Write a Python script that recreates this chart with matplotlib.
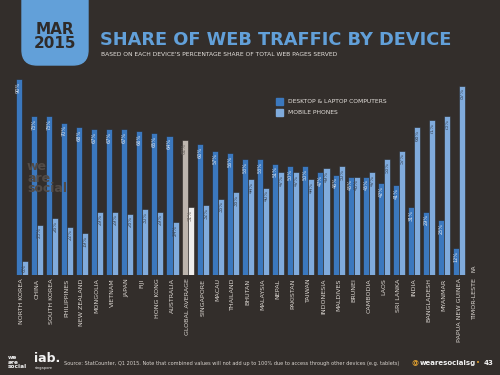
import matplotlib
matplotlib.use("Agg")
import matplotlib.pyplot as plt
import numpy as np
from matplotlib.patches import FancyBboxPatch, Rectangle

# data (percent of web pages served)
countries = ["NORTH KOREA", "CHINA", "SOUTH KOREA", "PHILIPPINES", "NEW ZEALAND",
             "MONGOLIA", "VIETNAM", "JAPAN", "FIJI", "HONG KONG", "AUSTRALIA",
             "GLOBAL AVERAGE", "SINGAPORE", "MACAU", "THAILAND", "BHUTAN",
             "MALAYSIA", "NEPAL", "PAKISTAN", "TAIWAN", "INDONESIA", "MALDIVES",
             "BRUNEI", "CAMBODIA", "LAOS", "SRI LANKA", "INDIA", "BANGLADESH",
             "MYANMAR", "PAPUA NEW GUINEA", "TIMOR-LESTE"]
desktop = [90, 73, 73, 70, 68, 67, 67, 67, 66, 65, 64, 62, 60, 57, 56, 53,
           53, 51, 50, 50, 47, 46, 45, 45, 42, 41, 31, 29, 25, 12, None]
mobile = [6, 23, 26, 22, 19, 29, 29, 28, 30, 29, 24, 31, 32, 35, 38, 44,
          40, 47, 47, 44, 49, 50, 45, 47, 53, 57, 68, 71, 73, 87, None]
avg_index = countries.index("GLOBAL AVERAGE")

BG = "#332e2b"
DESK = "#3b78be"
MOB = "#80abdc"
AVG_DESK = "#bdb5ad"
AVG_MOB = "#efedeb"
HEAD = "#62a0d9"

fig = plt.figure(figsize=(5, 3.75), dpi=100, facecolor=BG)
ax = fig.add_axes([0.028, 0.268, 0.936, 0.579])
ax.set_facecolor(BG)
ax.set_xlim(-0.5, len(countries) - 0.5)
ax.set_ylim(0, 100)
ax.axis("off")

narrow = ["Liberation Sans Narrow", "DejaVu Sans"]
w = 0.4
for i, name in enumerate(countries):
    d, m = desktop[i], mobile[i]
    dc, mc = (AVG_DESK, AVG_MOB) if i == avg_index else (DESK, MOB)
    dt, mt = ("#6b645e", "#6b645e") if i == avg_index else ("#dfe8f4", "#3a4656")
    if d is not None:
        ax.bar(i - w / 2, d, width=w, color=dc, edgecolor="#2a2624", linewidth=0.4)
        ax.text(i - w / 2, d - 1.2, f"{d}%", rotation=90, ha="center", va="top",
                fontsize=3.6, color=dt, family=narrow)
        ax.bar(i + w / 2, m, width=w, color=mc, edgecolor="#2a2624", linewidth=0.4)
        ax.text(i + w / 2, m - 1.2, f"{m}%", rotation=90, ha="center", va="top",
                fontsize=3.6, color=mt, family=narrow)
    else:
        ax.text(i, 1, "NA", rotation=90, ha="center", va="bottom",
                fontsize=3.8, color="#e8e4e0", family=narrow)
    ax.text(i, -1.8, name, rotation=90, ha="center", va="top",
            fontsize=4.6, color="#d9d4cf", family=narrow)

# legend
fig.patches.append(Rectangle((276 / 500, 1 - 105 / 375), 7 / 500, 7 / 375,
                             transform=fig.transFigure, color=DESK))
fig.patches.append(Rectangle((276 / 500, 1 - 116 / 375), 7 / 500, 7 / 375,
                             transform=fig.transFigure, color=MOB))
fig.text(288 / 500, 1 - 101.5 / 375, "DESKTOP & LAPTOP COMPUTERS", fontsize=4.3,
         color="#e6e2de", va="center", family=narrow)
fig.text(288 / 500, 1 - 112.5 / 375, "MOBILE PHONES", fontsize=4.3,
         color="#e6e2de", va="center", family=narrow)

# header box, only the bottom corners show rounded
box = FancyBboxPatch((22 / 500, 1 - 65 / 375), 66 / 500, 130 / 375,
                     boxstyle="round,pad=0,rounding_size=0.03",
                     transform=fig.transFigure, color=HEAD, mutation_aspect=1.33)
fig.patches.append(box)
fig.text(55 / 500, 1 - 29 / 375, "MAR", fontsize=11, fontweight="bold",
         color="#2f2b29", ha="center", va="center")
fig.text(55 / 500, 1 - 44 / 375, "2015", fontsize=11, fontweight="bold",
         color="#2f2b29", ha="center", va="center")

fig.text(100 / 500, 1 - 40 / 375, "SHARE OF WEB TRAFFIC BY DEVICE", fontsize=12.8,
         fontweight="bold", color=HEAD, va="center")
fig.text(101 / 500, 1 - 54 / 375,
         "BASED ON EACH DEVICE'S PERCENTAGE SHARE OF TOTAL WEB PAGES SERVED",
         fontsize=4.3, color="#e6e2de", va="center", family=narrow)

# faint watermark
fig.text(27 / 500, 1 - 178 / 375, "we\nare\nsocial", fontsize=9, fontweight="bold",
         color="#524b46", va="center", linespacing=0.8)

# footer
fig.text(8 / 500, 1 - 362 / 375, "we\nare\nsocial", fontsize=4.2, fontweight="bold",
         color="#f2f2f2", va="center", linespacing=0.8)
fig.text(34 / 500, 1 - 359 / 375, "iab.", fontsize=9, fontweight="bold",
         color="#f2f2f2", va="center")
fig.text(35 / 500, 1 - 367.5 / 375, "singapore", fontsize=2.6,
         color="#f2f2f2", va="center")
fig.text(64 / 500, 1 - 363 / 375,
         "Source: StatCounter, Q1 2015. Note that combined values will not add up "
         "to 100% due to access through other devices (e.g. tablets)",
         fontsize=3.6, color="#d9d4cf", va="center")
fig.text(412 / 500, 1 - 363 / 375, "@", fontsize=5, fontweight="bold",
         color="#e0a030", va="center")
fig.text(419.5 / 500, 1 - 363 / 375, "wearesocialsg", fontsize=5, fontweight="bold",
         color="#f2f2f2", va="center")
fig.text(476 / 500, 1 - 363 / 375, "\u2022", fontsize=5,
         color="#e0a030", va="center")
fig.text(484 / 500, 1 - 363 / 375, "43", fontsize=5, fontweight="bold",
         color="#f2f2f2", va="center")

fig.savefig("out.png", dpi=100, facecolor=BG)
